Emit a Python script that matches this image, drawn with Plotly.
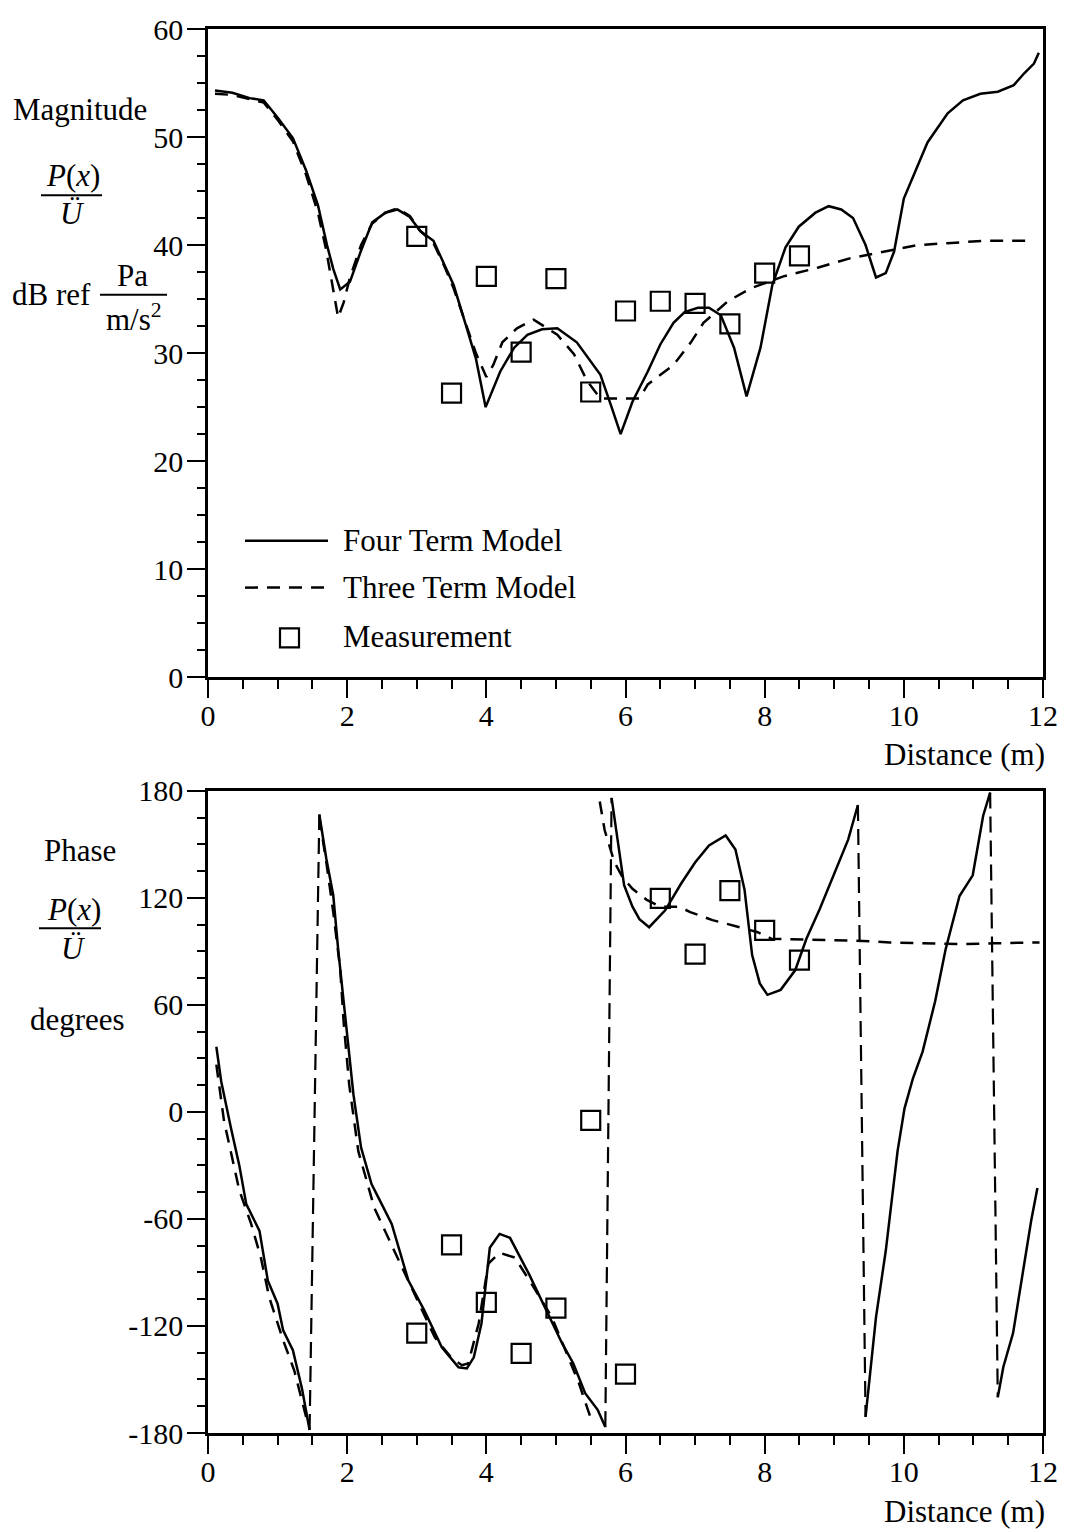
import plotly.graph_objects as go

# ---------------- data ----------------
# Magnitude, four term model (solid)
mag4_x = [0.1, 0.35, 0.6, 0.8, 1.0, 1.22, 1.41, 1.58, 1.71, 1.8, 1.9, 2.04, 2.2, 2.36, 2.55, 2.72,
          2.9, 3.05, 3.24, 3.4, 3.53, 3.72, 3.85, 3.99, 4.2, 4.4, 4.59, 4.8, 5.02, 5.3, 5.64, 5.8,
          5.93, 6.1, 6.32, 6.5, 6.69, 6.85, 7.04, 7.2, 7.37, 7.56, 7.74, 7.94, 8.11, 8.3, 8.49,
          8.73, 8.92, 9.1, 9.27, 9.45, 9.6, 9.74, 9.86, 10.0, 10.14, 10.34, 10.63, 10.85, 11.1,
          11.35, 11.58, 11.73, 11.87, 11.94]
mag4_y = [54.3, 54.1, 53.6, 53.4, 51.8, 49.9, 46.9, 43.7, 40.0, 37.8, 35.9, 36.6, 39.5, 42.1, 43.0, 43.3,
          42.6, 41.3, 40.4, 38.2, 36.3, 32.3, 29.5, 25.0, 28.3, 30.5, 31.7, 32.2, 32.3, 31.0, 28.0, 25.0,
          22.5, 25.5, 28.3, 30.8, 32.8, 33.8, 34.2, 34.2, 33.5, 30.5, 26.0, 30.5, 36.3, 39.8, 41.7,
          43.0, 43.6, 43.3, 42.5, 40.0, 37.0, 37.4, 39.4, 44.3, 46.5, 49.5, 52.2, 53.4, 54.0,
          54.2, 54.8, 55.9, 56.8, 57.8]

# Magnitude, three term model (dashed)
mag3_x = [0.1, 0.35, 0.6, 0.8, 1.0, 1.22, 1.41, 1.58, 1.7, 1.8, 1.87, 1.95, 2.04, 2.2, 2.36, 2.55,
          2.72, 2.9, 3.05, 3.24, 3.4, 3.53, 3.72, 3.85, 4.0, 4.1, 4.23, 4.44, 4.68, 5.02, 5.26, 5.45,
          5.64, 6.2, 6.32, 6.69, 6.94, 7.12, 7.47, 7.8, 8.27, 8.76, 9.24, 9.71, 10.2, 10.68, 11.15, 11.8]
mag3_y = [54.0, 53.9, 53.5, 53.2, 51.6, 49.6, 46.5, 43.0, 39.5, 36.0, 33.3, 34.7, 37.0, 40.0, 42.0, 43.0,
          43.4, 42.7, 41.3, 40.2, 38.0, 36.0, 32.5, 30.0, 27.8, 28.9, 31.0, 32.3, 33.1, 31.7, 29.9, 27.4,
          25.8, 25.8, 27.1, 28.9, 31.0, 32.8, 34.8, 36.0, 37.1, 37.9, 38.8, 39.4, 40.0, 40.2, 40.4, 40.4]

# Measurements
meas_x = [3.0, 3.5, 4.0, 4.5, 5.0, 5.5, 6.0, 6.5, 7.0, 7.5, 8.0, 8.5]
meas_mag = [40.8, 26.3, 37.1, 30.1, 36.9, 26.4, 33.9, 34.8, 34.6, 32.7, 37.4, 39.0]
meas_phase = [-124, -74.5, -106.8, -135.4, -110, -4.8, -147, 119.7, 88.4, 124, 101.7, 85]

# Phase, four term model (solid), branches separated by None at the +/-180 wraps
ph4_x = [0.12, 0.19, 0.33, 0.45, 0.55, 0.74, 0.86, 1.0, 1.08, 1.22, 1.35, 1.46, None,
         1.6, 1.7, 1.8, 1.87, 1.95, 2.02, 2.09, 2.2, 2.35, 2.5, 2.64, 2.88, 3.11, 3.36, 3.6, 3.72,
         3.82, 3.93, 4.05, 4.19, 4.34, 4.61, 4.84, 5.09, 5.25, 5.42, 5.6, 5.71, None,
         5.8, 5.9, 5.98, 6.1, 6.2, 6.34, 6.57, 6.8, 7.0, 7.2, 7.44, 7.58, 7.71, 7.82, 7.93, 8.04,
         8.23, 8.44, 8.6, 8.79, 9.02, 9.2, 9.34, None,
         9.45, 9.5, 9.6, 9.74, 9.91, 10.01, 10.13, 10.27, 10.45, 10.6, 10.8, 10.99, 11.14, 11.24, None,
         11.35, 11.43, 11.57, 11.74, 11.83, 11.92]
ph4_y = [36.5, 17, -9, -30, -51.7, -66.7, -94.6, -107.5, -122.5, -133.6, -155, -178.3, None,
         166.7, 142, 121.4, 91.3, 61.7, 33.8, 9.8, -20, -40.5, -52, -62.8, -94.6, -111.4, -132, -143.2, -143.8,
         -137.6, -118.6, -76.2, -68.4, -70.6, -90.7, -109.7, -129.8, -141, -157.7, -167, -176.7, None,
         176, 149, 127, 115, 108, 103.5, 113, 128, 139.8, 149.3, 154.9, 147.1, 124.7, 87.9, 72, 65.6,
         68.4, 79.5, 97, 113.6, 135.9, 152.6, 172, None,
         -171, -152, -115, -78, -22, 2, 18.6, 33.8, 62, 91, 121, 132.6, 166, 179, None,
         -160, -143, -124, -81.7, -61, -42.7]

# Phase, three term model (dashed)
ph3_x = [0.12, 0.23, 0.45, 0.62, 0.76, 0.88, 1.08, 1.24, 1.41, None,
         1.6, 1.7, 1.8, 1.9, 1.95, 2.03, 2.16, 2.39, 2.59, 2.93, 3.26, 3.5, 3.65, 3.74, 3.89, 4.03,
         4.19, 4.41, 4.65, 4.94, 5.18, 5.33, 5.52, None,
         5.63, 5.7, 5.84, 5.95, 6.1, 6.3, 6.5, 6.77, 6.93, 7.25, 7.64, 7.9, 8.1, 8.5, 9.0, 9.3,
         9.8, 10.3, 10.8, 11.3, 11.95]
ph3_y = [26.5, -5, -44, -62.8, -81.7, -104, -128, -145, -171, None,
         165, 140, 112, 80, 50, 15, -22, -53.8, -70.6, -98.5, -126.4, -138, -142, -141, -118.6, -85,
         -79, -81.7, -96.4, -115, -137.6, -152, -174, None,
         174, 158, 140, 132, 125, 119, 115, 115, 112, 107.5, 103.5, 100.7, 97, 96.8, 96.5, 96,
         95, 94.5, 94, 94.5, 95]

x_ticks = [0, 2, 4, 6, 8, 10, 12]
mag_ticks = [0, 10, 20, 30, 40, 50, 60]
phase_ticks = [-180, -120, -60, 0, 60, 120, 180]
phase_ticktext = ["-180", "-120", "-60", "0", "60", "120", "180"]

# ---------------- figure ----------------
W, H = 1071, 1532
L, R, T, B = 208, 28, 23, 99
PW, PH = W - L - R, H - T - B
FONT = "Liberation Serif"
BLACK = "black"
DASH = "13px,9px"
TXT = 31
TICK = 30


def px(xp):
    return (xp - L) / PW


def py(yp):
    return (H - B - yp) / PH


top_dom = [py(674), 1.0]
bot_dom = [0.0, py(788)]

fig = go.Figure()
solid = dict(color=BLACK, width=2.5)
dashed = dict(color=BLACK, width=2.5, dash=DASH)
marker = dict(symbol="square-open", size=19, color=BLACK, line=dict(width=2.2, color=BLACK))

# magnitude
fig.add_trace(go.Scatter(x=mag3_x, y=mag3_y, mode="lines", line=dashed, xaxis="x", yaxis="y",
                         name="Three Term Model", showlegend=False))
fig.add_trace(go.Scatter(x=mag4_x, y=mag4_y, mode="lines", line=solid, xaxis="x", yaxis="y",
                         name="Four Term Model", showlegend=False))
fig.add_trace(go.Scatter(x=meas_x, y=meas_mag, mode="markers", marker=marker, xaxis="x", yaxis="y",
                         name="Measurement", showlegend=False))

# phase
fig.add_trace(go.Scatter(x=ph3_x, y=ph3_y, mode="lines", line=dashed, xaxis="x2", yaxis="y2",
                         connectgaps=False, showlegend=False))
fig.add_trace(go.Scatter(x=ph4_x, y=ph4_y, mode="lines", line=solid, xaxis="x2", yaxis="y2",
                         connectgaps=False, showlegend=False))
# wrap connectors of the four term model (dashed), derived from branch ends
for i, v in enumerate(ph4_x):
    if v is None:
        fig.add_trace(go.Scatter(x=[ph4_x[i - 1], ph4_x[i + 1]], y=[ph4_y[i - 1], ph4_y[i + 1]],
                                 mode="lines", line=dict(color=BLACK, width=2.2, dash="16px,8px"),
                                 xaxis="x2", yaxis="y2", showlegend=False))
fig.add_trace(go.Scatter(x=meas_x, y=meas_phase, mode="markers", marker=marker, xaxis="x2", yaxis="y2",
                         showlegend=False))

tickfont = dict(family=FONT, size=TICK, color=BLACK)
common_axis = dict(showline=True, linecolor=BLACK, linewidth=2.5, mirror=True, showgrid=False,
                   zeroline=False, ticks="outside", ticklen=18, tickwidth=2.2, tickcolor=BLACK,
                   tickfont=tickfont)
xminor = dict(ticks="outside", dtick=0.5, ticklen=9, tickwidth=2, tickcolor=BLACK)

fig.update_layout(
    width=W, height=H, margin=dict(l=L, r=R, t=T, b=B),
    paper_bgcolor="white", plot_bgcolor="white", showlegend=False,
    font=dict(family=FONT, size=TXT, color=BLACK),
    xaxis=dict(domain=[0, 1], anchor="y", range=[0, 12], tickvals=x_ticks, ticklabelstandoff=-8,
               minor=xminor, **common_axis),
    yaxis=dict(domain=top_dom, anchor="x", range=[0, 60], tickvals=mag_ticks, ticklabelstandoff=-2,
               minor=dict(ticks="outside", dtick=2.5, ticklen=8, tickwidth=2, tickcolor=BLACK),
               **common_axis),
    xaxis2=dict(domain=[0, 1], anchor="y2", range=[0, 12], tickvals=x_ticks, ticklabelstandoff=-8,
                minor=xminor, **common_axis),
    yaxis2=dict(domain=bot_dom, anchor="x2", range=[-180, 180], tickvals=phase_ticks,
                ticktext=phase_ticktext, ticklabelstandoff=-2,
                minor=dict(ticks="outside", dtick=15, ticklen=8, tickwidth=2, tickcolor=BLACK),
                **common_axis),
)

ann = []
shapes = []


def text(s, xp, yp, xanchor="center", size=TXT):
    ann.append(dict(text=s, x=px(xp), y=py(yp), xref="paper", yref="paper", showarrow=False,
                    xanchor=xanchor, yanchor="middle", font=dict(family=FONT, size=size, color=BLACK)))


def hline(x0, x1, yp, width=2, dash=None):
    ln = dict(color=BLACK, width=width)
    if dash:
        ln["dash"] = dash
    shapes.append(dict(type="line", xref="paper", yref="paper", x0=px(x0), x1=px(x1),
                       y0=py(yp), y1=py(yp), line=ln))


# magnitude axis label
text("Magnitude", 80, 104)
text("<i>P</i>(<i>x</i>)", 73, 170)
hline(41, 102, 190)
text("<i>Ü</i>", 72, 208)
text("dB ref", 51, 290)
text("Pa", 132, 271)
hline(100, 167, 290)
text("m/s<sup>2</sup>", 134, 313)

# phase axis label
text("Phase", 80, 848)
text("<i>P</i>(<i>x</i>)", 74, 907)
hline(39, 101, 926)
text("<i>Ü</i>", 73, 946)
text("degrees", 77, 1018)

# x axis titles
text("Distance (m)", 1047, 752, xanchor="right")
text("Distance (m)", 1047, 1512, xanchor="right")

# legend
hline(245, 328, 537, width=2.5)
text("Four Term Model", 341, 537, xanchor="left")
hline(245, 328, 584, width=2.5, dash=DASH)
text("Three Term Model", 341, 584, xanchor="left")
shapes.append(dict(type="rect", xref="paper", yref="paper", x0=px(280), x1=px(299),
                   y0=py(644), y1=py(625), line=dict(color=BLACK, width=2.2)))
text("Measurement", 341, 633, xanchor="left")

fig.update_layout(annotations=ann, shapes=shapes)
fig.write_html("out.html")
